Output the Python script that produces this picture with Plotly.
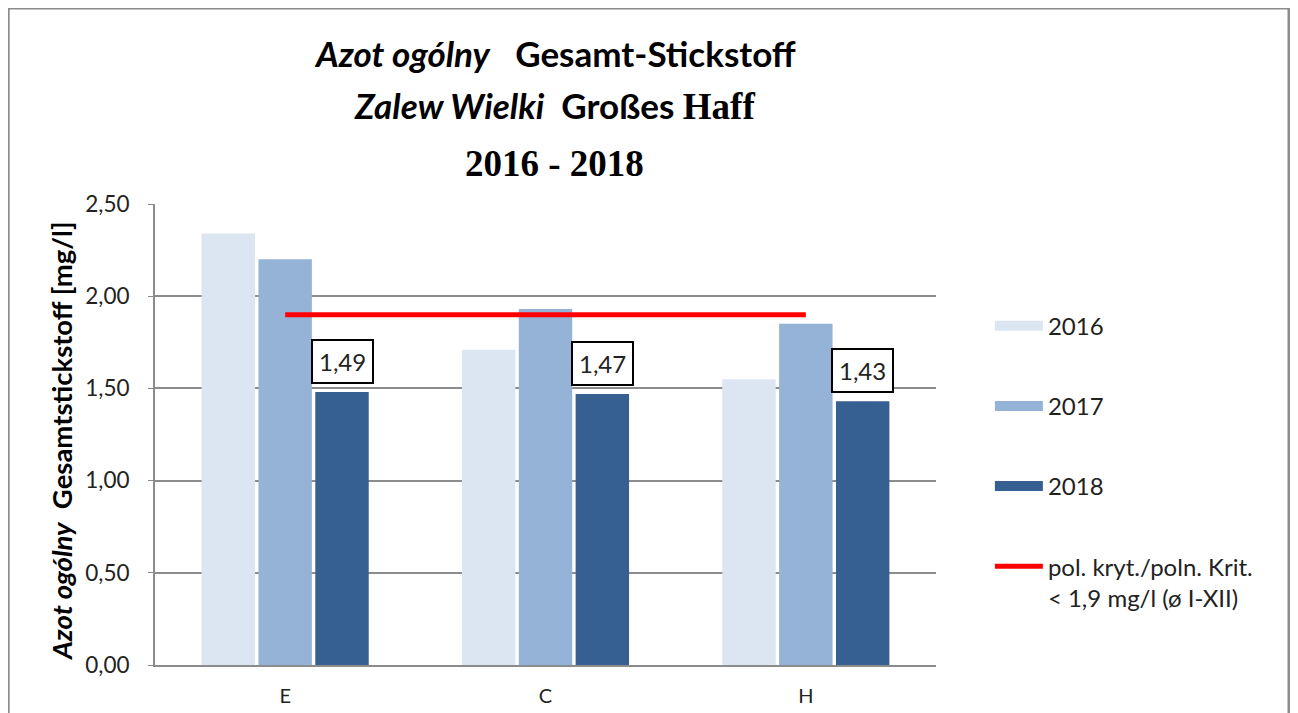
import plotly.graph_objects as go

categories = ["E", "C", "H"]
years = ["2016", "2017", "2018"]
values_2016 = [2.34, 1.71, 1.55]
values_2017 = [2.20, 1.93, 1.85]
values_2018 = [1.48, 1.47, 1.43]
labels_2018 = ["1,49", "1,47", "1,43"]
criterion = [1.9, 1.9, 1.9]
criterion_name = "pol. kryt./poln. Krit.<br>< 1,9 mg/l (ø I-XII)"
y_title = "<b><i>Azot ogólny</i>  Gesamtstickstoff [mg/l]</b>"
colors = ["#DCE6F2", "#95B3D7", "#376092"]

BARGAP = 0.345
SANS = "Lato, 'Open Sans', sans-serif"
SERIF = "'Liberation Serif', 'DejaVu Serif', serif"

fig = go.Figure()
for yr, vals, col in zip(years, [values_2016, values_2017, values_2018], colors):
    fig.add_trace(go.Bar(x=categories, y=vals, name=yr, marker=dict(color=col, line=dict(width=0)),
                         showlegend=False))

# legend entries (wide swatches like the original)
for i, (yr, col) in enumerate(zip(years, colors)):
    fig.add_trace(go.Scatter(x=[None], y=[None], mode="lines", name=yr,
                             line=dict(color=col, width=10), legendgroup=f"g{i}"))

fig.add_trace(go.Scatter(x=categories, y=criterion, mode="lines", name=criterion_name,
                         line=dict(color="#FF0000", width=5), legendgroup="g3"))

# boxed data labels for 2018 bars
group_w = 1 - BARGAP
for i, (v, lab) in enumerate(zip(values_2018, labels_2018)):
    fig.add_annotation(x=i + group_w / 3, y=v, xref="x", yref="y", text=lab, showarrow=False,
                       yanchor="bottom", yshift=8, bgcolor="white", bordercolor="black",
                       borderwidth=2, borderpad=6, font=dict(size=24, color="#222222", family=SANS))

# title lines
title_lines = [
    ("<b><i>Azot ogólny</i>   Gesamt-Stickstoff</b>", 1.328, SANS, 35),
    ("<b><i>Zalew Wielki</i>  Großes <span style='font-family:Liberation Serif;font-size:37px'>Haff</span></b>",
     1.213, SANS, 35),
    ("<b>2016 - 2018</b>", 1.087, SERIF, 37),
]
for txt, yy, fam, sz in title_lines:
    fig.add_annotation(x=0.512, y=yy, xref="paper", yref="paper", text=txt, showarrow=False,
                       xanchor="center", yanchor="middle", font=dict(size=sz, color="black", family=fam))

# y-axis title
fig.add_annotation(x=-0.119, y=0.486, xref="paper", yref="paper", text=y_title, showarrow=False,
                   textangle=-90, xanchor="center", yanchor="middle",
                   font=dict(size=27.5, family=SANS, color="black"))

# outer chart border
fig.add_shape(type="rect", xref="paper", yref="paper", x0=-0.188, x1=1.452, y0=-0.3, y1=1.425,
              line=dict(color="#8C8C8C", width=3), fillcolor="rgba(0,0,0,0)", layer="below")

fig.update_layout(
    width=1290, height=705,
    margin=dict(l=147, r=362, t=196, b=48, autoexpand=False),
    paper_bgcolor="white", plot_bgcolor="white",
    barmode="group", bargap=BARGAP, bargroupgap=0.06,
    separators=", ",
    font=dict(family=SANS, color="#222222", size=22),
    legend=dict(x=1.069, y=0.784, xanchor="left", yanchor="top", traceorder="grouped",
                tracegroupgap=46, font=dict(size=24, family=SANS, color="#222222"),
                itemwidth=48, valign="top", bgcolor="rgba(0,0,0,0)"),
    xaxis=dict(showgrid=False, showline=True, linecolor="#8C8C8C", linewidth=2, ticks="",
               automargin=False,
               tickfont=dict(size=20, family=SANS, color="#222222"), ticklabelstandoff=12),
    yaxis=dict(range=[0, 2.5], dtick=0.5, tickformat=".2f", showgrid=True, gridcolor="#8C8C8C",
               gridwidth=2, showline=True, linecolor="#8C8C8C", linewidth=2, ticks="outside",
               ticklen=5, tickcolor="#8C8C8C", zeroline=False, automargin=False,
               ticklabelstandoff=14,
               tickfont=dict(size=22.5, family=SANS, color="#222222")),
)

fig.write_html("out.html")
